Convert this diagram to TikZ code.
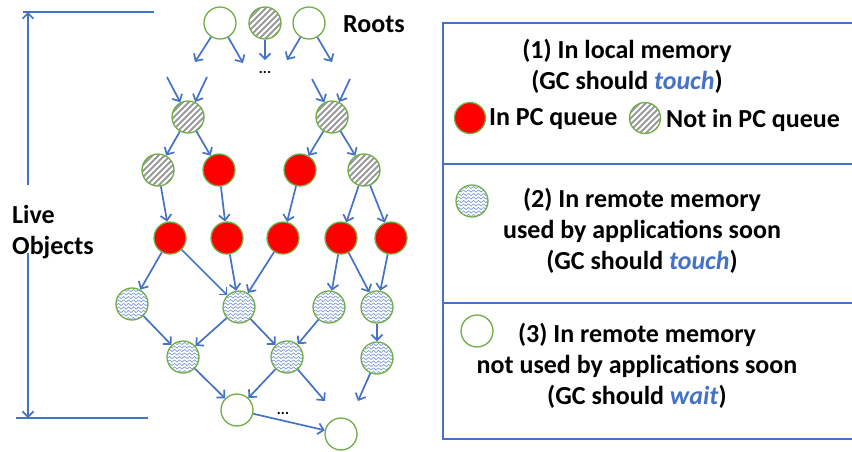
\documentclass[tikz,border=0pt]{standalone}
\usepackage{fontspec}
\setmainfont{Carlito}
\usetikzlibrary{arrows.meta,decorations.pathmorphing,calc}
\definecolor{lineblue}{HTML}{4472C4}
\definecolor{ringgreen}{HTML}{70AD47}
\definecolor{hatchgray}{HTML}{9A9A9A}
\definecolor{wave}{HTML}{6F91D6}
\tikzset{
  obj/.style={circle, draw=ringgreen, line width=1.3pt, minimum size=32pt, inner sep=0pt, fill=white},
  redobj/.style={obj, fill=red},
  hatchobj/.style={obj, path picture={
      \foreach \i in {-44,-38,...,40}
        \draw[hatchgray, line width=2pt]
          ($(path picture bounding box.south west)+(\i pt,0pt)$) -- ++(44pt,44pt);}},
  waveobj/.style={obj, path picture={
      \foreach \j in {-18,-14.5,...,18}
        \draw[wave, line width=0.6pt, decorate,
              decoration={snake, amplitude=1.1pt, segment length=5pt}]
          ($(path picture bounding box.center)+(-20pt,\j pt)$) -- ++(40pt,0pt);}},
  arr/.style={draw=lineblue, line width=1.7pt, -{Straight Barb[length=5.5pt,width=11pt]}},
  frame/.style={draw=lineblue, line width=1.3pt},
  lbl/.style={font=\bfseries\fontsize{26}{31}\selectfont, inner sep=0pt},
  dots/.style={font=\bfseries\fontsize{15}{15}\selectfont, inner sep=0pt}
}
\newcommand{\hl}[1]{\textcolor{lineblue}{\textit{#1}}}
\begin{document}
\begin{tikzpicture}[x=1pt, y=-1pt]
\useasboundingbox (0,0) rectangle (852,451);

% roots
\node[obj]      (r1) at (220,23) {};
\node[hatchobj] (r2) at (265,23) {};
\node[obj]      (r3) at (309,23) {};
\node[lbl, anchor=west] (roots) at (343,24) {Roots};

\coordinate (a1) at (195,62);
\coordinate (a2) at (243,63);
\coordinate (a3) at (265,60);
\coordinate (a4) at (287,60);
\coordinate (a5) at (332,62);
\draw[arr] (r1) -- (a1);
\draw[arr] (r1) -- (a2);
\draw[arr] (r2) -- (a3);
\draw[arr] (r3) -- (a4);
\draw[arr] (r3) -- (a5);
\node[dots] (d1) at (265,72) {...};

% second level
\node[hatchobj] (h1) at (188,117) {};
\node[hatchobj] (h2) at (332,117) {};
\coordinate (b1) at (167,77);
\coordinate (b2) at (207,77);
\coordinate (b3) at (312,79);
\coordinate (b4) at (350,79);
\draw[arr] (b1) -- (h1);
\draw[arr] (b2) -- (h1);
\draw[arr] (b3) -- (h2);
\draw[arr] (b4) -- (h2);

% third level
\node[hatchobj] (g1) at (158,170) {};
\node[redobj]   (p1) at (219,170) {};
\node[redobj]   (p2) at (300,170) {};
\node[hatchobj] (g2) at (364,170) {};

% fourth level
\node[redobj] (q1) at (170,238) {};
\node[redobj] (q2) at (227,238) {};
\node[redobj] (q3) at (283,238) {};
\node[redobj] (q4) at (341,238) {};
\node[redobj] (q5) at (391,238) {};

% fifth level
\node[waveobj] (w1) at (132,304) {};
\node[waveobj] (w2) at (239,307) {};
\node[waveobj] (w3) at (329,307) {};
\node[waveobj] (w4) at (377,307) {};

% sixth level
\node[waveobj] (v1) at (183,357) {};
\node[waveobj] (v2) at (287,357) {};
\node[waveobj] (v3) at (377,358) {};

% last level
\node[obj] (e1) at (237,410) {};
\node[obj] (e2) at (341,434) {};
\coordinate (c1) at (325,401);
\coordinate (c2) at (358,401);
\node[dots] (d2) at (283,413) {...};

% references
\draw[arr] (h1) -- (g1);
\draw[arr] (h1) -- (p1);
\draw[arr] (h2) -- (p2);
\draw[arr] (h2) -- (g2);
\draw[arr] (g1) -- (q1);
\draw[arr] (p1) -- (q2);
\draw[arr] (p2) -- (q3);
\draw[arr] (g2) -- (q4);
\draw[arr] (g2) -- (q5);
\draw[arr] (q1) -- (w1);
\draw[arr] (q1) -- (w2);
\draw[arr] (q2) -- (w2);
\draw[arr] (q3) -- (w2);
\draw[arr] (q4) -- (w3);
\draw[arr] (q4) -- (w4);
\draw[arr] (q5) -- (w4);
\draw[arr] (w1) -- (v1);
\draw[arr] (w2) -- (v1);
\draw[arr] (w2) -- (v2);
\draw[arr] (w3) -- (v2);
\draw[arr] (w4) -- (v3);
\draw[arr] (v1) -- (e1);
\draw[arr] (v2) -- (e1);
\draw[arr] (v2) -- (c1);
\draw[arr] (v3) -- (c2);
\draw[arr] (e1) -- (e2);

% live-objects span
\coordinate (tl) at (23,12);
\coordinate (tr) at (154,12);
\coordinate (bl) at (16,418);
\coordinate (br) at (148,418);
\coordinate (vt) at (28,12);
\coordinate (vb) at (28,418);
\coordinate (gt) at (28,185);
\coordinate (gb) at (28,253);
\draw[frame] (tl) -- (tr);
\draw[frame] (bl) -- (br);
\draw[arr] (gt) -- (vt);
\draw[arr] (gb) -- (vb);
\node[lbl, anchor=west, align=left] (live) at (12,232) {Live\\Objects};

% legend
\coordinate (k1) at (852,23);
\coordinate (k2) at (443,23);
\coordinate (k3) at (443,439);
\coordinate (k4) at (852,439);
\draw[frame] (k1) -- (k2) -- (k3) -- (k4);
\draw[frame] (443,164) -- (852,164);
\draw[frame] (443,303) -- (852,303);

\node[lbl, align=center] (t1) at (627,66) {(1) In local memory\\(GC should \hl{touch})};
\node[redobj, minimum size=31pt] (l1) at (470,118) {};
\node[lbl, anchor=west] (t1a) at (489,119) {In PC queue};
\node[hatchobj, minimum size=31pt] (l2) at (645,118) {};
\node[lbl, anchor=west] (t1b) at (666,120) {Not in PC queue};

\node[waveobj] (l3) at (472,201) {};
\node[lbl, align=center] (t2) at (642,231) {(2) In remote memory\\used by applications soon\\(GC should \hl{touch})};

\node[obj] (l4) at (477,331) {};
\node[lbl, align=center] (t3) at (637,366) {(3) In remote memory\\not used by applications soon\\(GC should \hl{wait})};
\end{tikzpicture}
\end{document}
